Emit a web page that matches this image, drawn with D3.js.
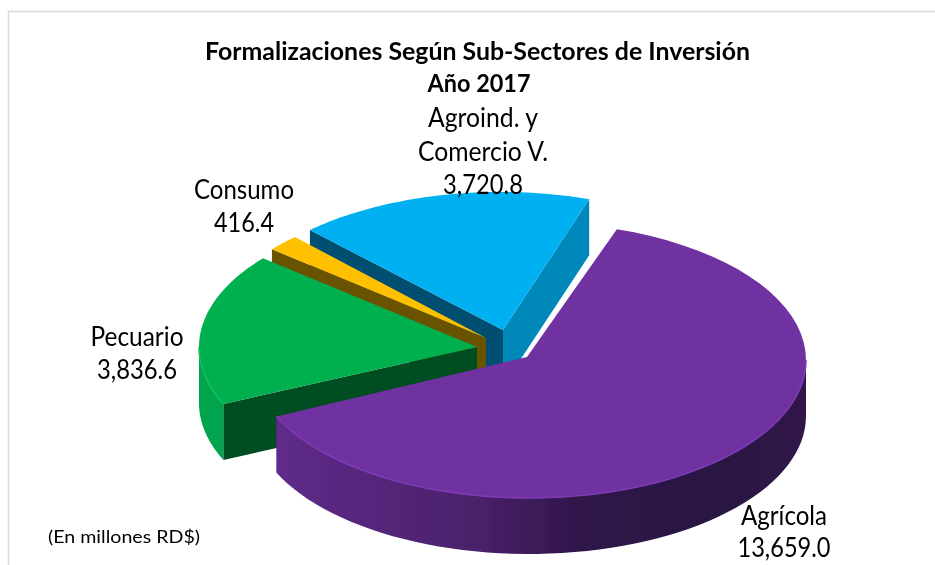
<!DOCTYPE html>
<html><head><meta charset="utf-8">
<script src="https://cdn.jsdelivr.net/npm/d3@7/dist/d3.min.js"></script>
<style>html,body{margin:0;padding:0;background:#fff}svg{display:block}text{font-family:Lato,"Open Sans",sans-serif;fill:#000}</style>
</head><body><svg id="c" width="935" height="565"></svg>
<script>
const categories=["Agrícola","Pecuario","Consumo","Agroind. y Comercio V."];
const values=[13659.0,3836.6,416.4,3720.8];
const valueLabels=["13,659.0","3,836.6","416.4","3,720.8"];
const titleLines=["Formalizaciones Según Sub-Sectores de Inversión","Año 2017"];
const unitNote="(En millones RD$)";

// Layout (not data)
const W=935,H=565,RX=278,RY=139,DEPTH=56,START=18.5*Math.PI/180;
const apex=[{x:527,y:357},{x:477,y:347},{x:486,y:338},{x:503,y:330}];
const rimShift=[{x:2,y:3,r:-1},{x:0,y:0,r:0},{x:0,y:0,r:0},{x:-2,y:1,r:0}];
const topCol=["#7030a0","#00b050","#ffc000","#00b0f0"];
const wallCol=["url(#purpleSide)","#00a44d","#7a5c00","#0089bb"];
const startFaceCol=[null,"#004d21","#6b5200","#004f70"];
const endFaceCol=[null,null,null,"#0088ba"];
const rimCol=["#7f3bb5","#12c060",null,null];
const labelPos=[
 {x:784,y:[525,557],w:[86,93]},
 {x:137,y:[346,379],w:[93,80]},
 {x:244,y:[199,232],w:[100,60]},
 {x:483,y:[127,161,194],w:[110,130,80]}];

const svg=d3.select("#c");
const defs=svg.append("defs");
const g=defs.append("linearGradient").attr("id","purpleSide").attr("gradientUnits","userSpaceOnUse")
 .attr("x1",249).attr("x2",805).attr("y1",0).attr("y2",0);
[[0,"#622c8f"],[.2,"#55277d"],[.42,"#4a2069"],[.6,"#2f1649"],[.85,"#2a1242"],[1,"#301749"]]
 .forEach(s=>g.append("stop").attr("offset",s[0]).attr("stop-color",s[1]));
defs.append("filter").attr("id","soft").attr("x","-5%").attr("y","-5%").attr("width","110%").attr("height","110%")
 .append("feGaussianBlur").attr("stdDeviation",0.5);
defs.append("filter").attr("id","softText").attr("x","-5%").attr("y","-20%").attr("width","110%").attr("height","140%")
 .append("feGaussianBlur").attr("stdDeviation",0.3);

svg.append("path").attr("d",`M8.5 ${H}V11.5H${W}`).attr("fill","none").attr("stroke","#d9d9d9").attr("stroke-width",1.5);

const arcs=d3.pie().sort(null).startAngle(START).endAngle(START+2*Math.PI)(values);
const sx=d3.scaleLinear().domain([0,1]).range([0,RX]);
const sy=d3.scaleLinear().domain([0,1]).range([0,RY]);
const px=(i,a,d=0)=>[apex[i].x+rimShift[i].x+sx(Math.sin(a))+rimShift[i].r*Math.sin(a),apex[i].y+rimShift[i].y-sy(Math.cos(a))+rimShift[i].r*-Math.cos(a)+d];
const line=d3.line();
const rim=(i,a0,a1,d=0)=>d3.range(0,61).map(k=>px(i,a0+(a1-a0)*k/60,d));
const face=(i,a)=>{const O=[apex[i].x,apex[i].y],P=px(i,a);return line([O,P,[P[0],P[1]+DEPTH],[O[0],O[1]+DEPTH]])+"Z";};

const layer=svg.append("g").attr("filter","url(#soft)");
// painted back to front
[3,2,1,0].forEach(i=>{
  const s=arcs[i],a0=s.startAngle,a1=s.endAngle;
  const c=layer.append("g");
  const lo=Math.max(a0,Math.PI/2),hi=Math.min(a1,3*Math.PI/2);
  if(hi>lo) c.append("path").attr("d",line(rim(i,lo,hi).concat(rim(i,lo,hi,DEPTH).reverse()))+"Z").attr("fill",wallCol[i]);
  if(endFaceCol[i]) c.append("path").attr("d",face(i,a1)).attr("fill",endFaceCol[i]);
  if(startFaceCol[i]) c.append("path").attr("d",face(i,a0)).attr("fill",startFaceCol[i]);
  c.append("path").attr("d",line([[apex[i].x,apex[i].y]].concat(rim(i,a0,a1)))+"Z").attr("fill",topCol[i]);
  if(rimCol[i]&&hi>lo) c.append("path").attr("d",line(rim(i,lo,hi))).attr("fill","none").attr("stroke",rimCol[i]).attr("stroke-width",1.5);
});

const textLayer=svg.append("g").attr("filter","url(#softText)");
function put(str,x,y,size,w,bold){
  const t=textLayer.append("text").attr("x",x).attr("y",y).attr("text-anchor","middle").attr("font-size",size).text(str);
  if(bold) t.attr("font-weight",700);
  if(w) t.attr("textLength",w).attr("lengthAdjust","spacingAndGlyphs");
}
put(titleLines[0],477.5,60,24,545,true);
put(titleLines[1],479,92,24,103,true);
const lines=[[categories[0],valueLabels[0]],[categories[1],valueLabels[1]],[categories[2],valueLabels[2]],["Agroind. y","Comercio V.",valueLabels[3]]];
lines.forEach((ls,i)=>ls.forEach((l,k)=>put(l,labelPos[i].x,labelPos[i].y[k],27,labelPos[i].w[k])));
put(unitNote,124,543,18,152);
</script></body></html>
